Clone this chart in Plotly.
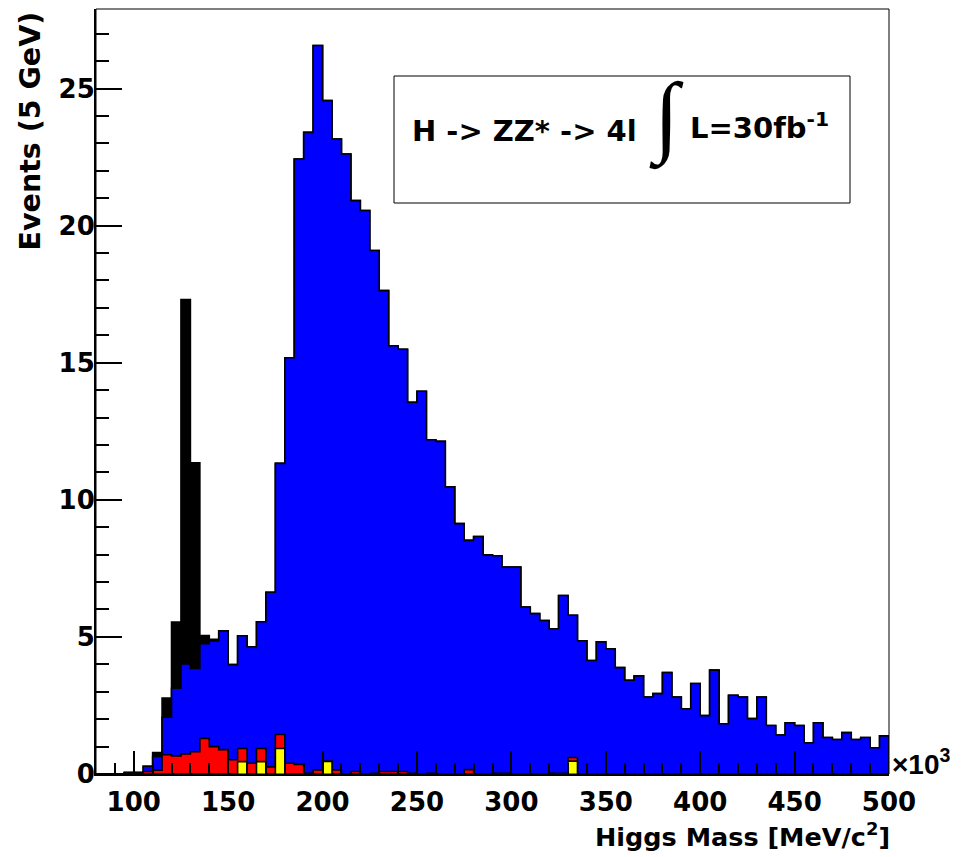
import numpy as np
import plotly.graph_objects as go

# ---------------- data (5 GeV bins, x in 10^3 MeV) ----------------
bin_low_edges = list(range(80, 500, 5))   # 84 bins: 80-85 ... 495-500
bin_width = 5

# black: H(130) -> ZZ* -> 4l signal
signal_h130 = [0, 0, 0, 0, 0, 0, 0.14, 0.70, 2.41, 13.29,
               7.50, 0.30, 0.06, 0, 0, 0, 0, 0, 0, 0,
               0, 0, 0, 0, 0, 0, 0, 0, 0, 0,
               0, 0, 0, 0, 0, 0, 0, 0, 0, 0,
               0, 0, 0, 0, 0, 0, 0, 0, 0, 0,
               0, 0, 0, 0, 0, 0, 0, 0, 0, 0,
               0, 0, 0, 0, 0, 0, 0, 0, 0, 0,
               0, 0, 0, 0, 0, 0, 0, 0, 0, 0,
               0, 0, 0, 0]

# blue: ZZ continuum
zz_background = [0, 0, 0, 0, 0, 0.19, 0.50, 1.37, 2.47, 3.28,
                 3.04, 3.45, 3.85, 4.33, 3.47, 4.11, 4.25, 4.62, 6.37, 9.89,
                 14.79, 22.08, 23.37, 26.42, 24.10, 23.01, 22.61, 20.82, 20.55, 19.06,
                 17.54, 15.53, 15.40, 13.53, 13.96, 12.16, 12.13, 10.47, 9.13, 8.36,
                 8.66, 7.99, 7.93, 7.52, 7.55, 6.09, 5.85, 5.60, 5.27, 6.48,
                 5.19, 4.86, 4.14, 4.82, 4.57, 3.88, 3.42, 3.58, 2.81, 2.93,
                 3.70, 2.81, 2.38, 3.30, 2.13, 3.79, 1.83, 2.87, 2.81, 2.02,
                 2.81, 1.77, 1.42, 1.87, 1.77, 1.14, 1.87, 1.33, 1.26, 1.51,
                 1.26, 1.33, 0.96, 1.39]

# red: Zbb background
zbb_background = [0, 0, 0, 0.05, 0.05, 0.09, 0.14, 0.70, 0.66, 0.73,
                  0.81, 1.30, 1.00, 0.89, 0.52, 0.48, 0.39, 0.48, 0.26, 0.51,
                  0.39, 0.35, 0.03, 0.15, 0, 0.15, 0, 0.09, 0, 0.03,
                  0.09, 0.09, 0.09, 0.03, 0, 0.03, 0, 0, 0, 0.16,
                  0, 0, 0.03, 0.03, 0, 0, 0, 0, 0.03, 0.03,
                  0.13, 0, 0, 0, 0, 0, 0, 0, 0, 0,
                  0, 0, 0, 0, 0, 0, 0, 0, 0, 0,
                  0, 0, 0, 0, 0, 0, 0, 0, 0, 0,
                  0, 0, 0, 0]

# yellow: ttbar background
tt_background = [0, 0, 0, 0, 0, 0, 0, 0, 0, 0,
                 0, 0, 0, 0, 0, 0.45, 0, 0.45, 0, 0.93,
                 0, 0, 0, 0, 0.46, 0, 0, 0, 0, 0,
                 0, 0, 0, 0, 0, 0, 0, 0, 0, 0,
                 0, 0, 0, 0, 0, 0, 0, 0, 0, 0,
                 0.47, 0, 0, 0, 0, 0, 0, 0, 0, 0,
                 0, 0, 0, 0, 0, 0, 0, 0, 0, 0,
                 0, 0, 0, 0, 0, 0, 0, 0, 0, 0,
                 0, 0, 0, 0]

x_tick_values = [100, 150, 200, 250, 300, 350, 400, 450, 500]
y_tick_values = [0, 5, 10, 15, 20, 25]

# ---------------- build stack (ROOT THStack style) ----------------
layers_bottom_up = [
    (tt_background, "#ffff00"),
    (zbb_background, "#ff0000"),
    (zz_background, "#0000ff"),
    (signal_h130, "#000000"),
]
cum = np.zeros(len(bin_low_edges))
stacked = []
for vals, col in layers_bottom_up:
    cum = cum + np.array(vals, dtype=float)
    stacked.append((cum.copy(), col))

edges = list(bin_low_edges) + [bin_low_edges[-1] + bin_width]

fig = go.Figure()
for tops, col in reversed(stacked):
    xs = [edges[0]] + edges + [edges[-1]]
    ys = [0.0] + list(tops) + [float(tops[-1]), 0.0]
    fig.add_trace(go.Scatter(
        x=xs, y=ys, mode="lines", line=dict(shape="hv", color="black", width=1.6),
        fill="tozeroy", fillcolor=col, hoverinfo="skip", showlegend=False))

FONT = "DejaVu Sans, sans-serif"
# the page body has an 8px margin, so the figure is drawn 8px in from the corner
OFF = 8
W, H = 968 - OFF, 857 - OFF
L, R, T, B = 88, 79, 1, 83
PW, PH = W - L - R, H - T - B
PLOT_LEFT, PLOT_BOTTOM = OFF + L, OFF + H - B

def px(xp):
    return (xp - PLOT_LEFT) / PW

def py(yp):
    return (PLOT_BOTTOM - yp) / PH

fig.update_layout(
    width=W, height=H,
    margin=dict(l=L, r=R, t=T, b=B, autoexpand=False),
    paper_bgcolor="white", plot_bgcolor="white",
    showlegend=False,
    font=dict(family=FONT, color="black"),
)

fig.update_xaxes(
    range=[80, 500], tickvals=x_tick_values, ticks="inside", ticklen=23, tickwidth=1.5,
    tickcolor="black", showgrid=False, zeroline=False, automargin=False,
    showline=True, linecolor="black", linewidth=2, mirror=False,
    tickfont=dict(family=FONT, size=26, color="black", weight="bold"),
    ticklabelstandoff=4,
    minor=dict(dtick=10, tick0=80, ticks="inside", ticklen=11, tickwidth=1.5, tickcolor="black"),
)
fig.update_yaxes(
    range=[0, 27.9], tickvals=y_tick_values, ticks="inside", ticklen=26, tickwidth=1.5,
    tickcolor="black", showgrid=False, zeroline=False, automargin=False,
    showline=True, linecolor="black", linewidth=2, mirror=False,
    tickfont=dict(family=FONT, size=26, color="black", weight="bold"),
    ticklabelstandoff=-6,
    minor=dict(dtick=1, ticks="inside", ticklen=13, tickwidth=1.5, tickcolor="black"),
)

# frame (top & right thin lines)
fig.add_shape(type="rect", xref="paper", yref="paper", x0=0, x1=1, y0=0, y1=1,
              line=dict(color="black", width=1), layer="above")

# legend box
fig.add_shape(type="rect", xref="paper", yref="paper",
              x0=px(394), x1=px(850), y0=py(203), y1=py(76),
              line=dict(color="black", width=1), fillcolor="white", layer="above")

legend_font = dict(family=FONT, size=29, color="black", weight="bold")
fig.add_annotation(xref="paper", yref="paper", x=px(410), y=py(131),
                   xanchor="left", yanchor="middle", showarrow=False,
                   text="H -> ZZ* -> 4l", font=legend_font)
fig.add_annotation(xref="paper", yref="paper", x=px(666), y=py(117),
                   xanchor="center", yanchor="middle", showarrow=False,
                   text="∫", font=dict(family="Liberation Serif", size=90, color="black"))
fig.add_annotation(xref="paper", yref="paper", x=px(688), y=py(126),
                   xanchor="left", yanchor="middle", showarrow=False,
                   text="L=30fb<sup>-1</sup>", font=legend_font)

title_font = dict(family=FONT, size=25.5, color="black", weight="bold")
fig.add_annotation(xref="paper", yref="paper", x=1, y=0, xanchor="right", yanchor="middle",
                   xshift=3, yshift=-61, showarrow=False,
                   text="Higgs Mass [MeV/c<sup>2</sup>]", font=title_font)
fig.add_annotation(xref="paper", yref="paper", x=0, y=1, xanchor="center", yanchor="top",
                   xshift=-66, yshift=-1, textangle=-90, showarrow=False,
                   text="Events (5 GeV)", font=dict(family=FONT, size=28.5, color="black", weight="bold"))
fig.add_annotation(xref="paper", yref="paper", x=1, y=0, xanchor="left", yanchor="middle",
                   xshift=1, yshift=12, showarrow=False,
                   text="×10<sup>3</sup>",
                   font=dict(family="Liberation Sans", size=28, color="black", weight="bold"))

fig.write_html("out.html")
